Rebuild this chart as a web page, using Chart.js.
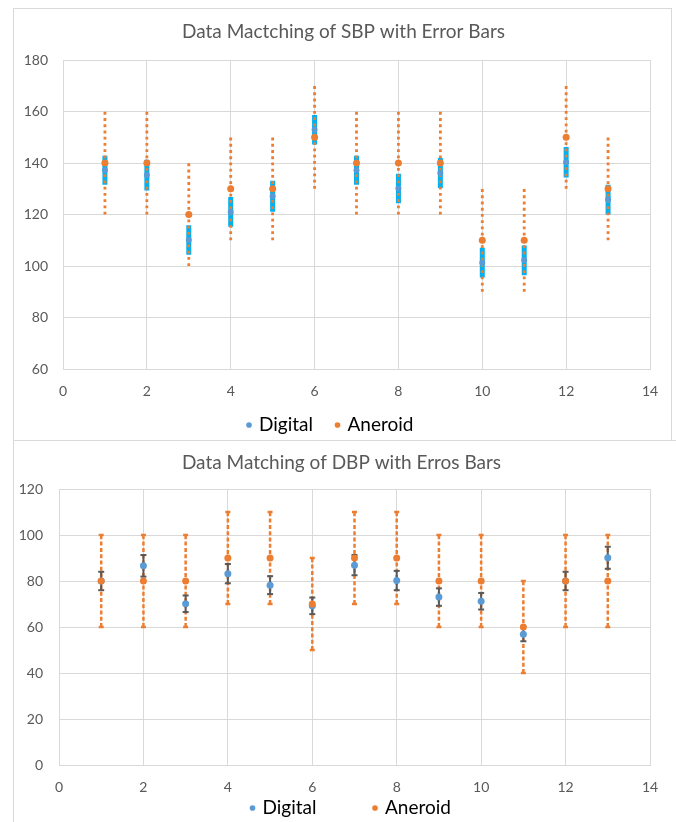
<!DOCTYPE html>
<html><head><meta charset="utf-8">
<script src="https://cdn.jsdelivr.net/npm/chart.js@4.4.1/dist/chart.umd.min.js"></script>
<style>
html,body{margin:0;padding:0;background:#fff;width:676px;height:822px;overflow:hidden;position:relative;}
.frame{position:absolute;border:1px solid #D9D9D9;box-sizing:border-box;}
canvas{position:absolute;left:0;}
</style></head><body>
<div class="frame" style="left:13px;top:8px;width:659px;height:433px;"></div>
<div class="frame" style="left:13px;top:440px;width:700px;height:420px;"></div>
<canvas id="c1" width="676" height="454" style="top:0px"></canvas>
<canvas id="c2" width="676" height="444" style="top:440px"></canvas>
<script>
// ---- data ----
const xValues = [1, 2, 3, 4, 5, 6, 7, 8, 9, 10, 11, 12, 13];
const xTicks = [0, 2, 4, 6, 8, 10, 12, 14];

const sbpTitle = 'Data Mactching of SBP with Error Bars';
const sbpYTicks = [60, 80, 100, 120, 140, 160, 180];
const sbpDigital = [137.2, 135.3, 110.1, 121.0, 127.1, 152.9, 137.2, 130.1, 136.1, 101.3, 102.2, 140.3, 125.8];
const sbpDigitalErr = [5.6, 6.0, 5.7, 5.8, 6.0, 5.7, 5.6, 5.7, 5.8, 5.8, 5.8, 5.9, 5.8];
const sbpAneroid = [140, 140, 120, 130, 130, 150, 140, 140, 140, 110, 110, 150, 130];
const sbpAneroidErr = [20, 20, 20, 20, 20, 20, 20, 20, 20, 20, 20, 20, 20];

const dbpTitle = 'Data Matching of DBP with Erros Bars';
const dbpYTicks = [0, 20, 40, 60, 80, 100, 120];
const dbpDigital = [80, 86.6, 70.1, 83.2, 78.2, 69.2, 86.9, 80.2, 73.0, 71.2, 56.9, 80, 90.1];
const dbpDigitalErr = [4.0, 4.7, 3.6, 4.2, 3.9, 3.6, 4.4, 4.2, 3.8, 3.6, 3.1, 4.0, 4.8];
const dbpAneroid = [80, 80, 80, 90, 90, 70, 90, 90, 80, 80, 60, 80, 80];
const dbpAneroidErr = [20, 20, 20, 20, 20, 20, 20, 20, 20, 20, 20, 20, 20];

const seriesNames = ['Digital', 'Aneroid'];

// ---- helpers ----
const FONT = 'Lato';
function pts(xs, ys) { return xs.map((x, i) => ({x: x, y: ys[i]})); }
function errSegs(xs, ys, es) {
  const out = [];
  xs.forEach((x, i) => {
    out.push({x: x, y: ys[i] - es[i]}, {x: x, y: ys[i] + es[i]}, {x: x, y: null});
  });
  return out;
}

// shifts the title / legend boxes after Chart.js has laid them out
const boxNudge = {
  id: 'boxNudge',
  afterLayout(chart, args, opts) {
    const move = (b, dx, dy) => {
      if (!b) return;
      b.left += dx || 0; b.right += dx || 0; b.top += dy || 0; b.bottom += dy || 0;
    };
    move(chart.legend, opts.legendDx, opts.legendDy);
    move(chart.titleBlock, opts.titleDx, 0);
  }
};

function makeOptions(c) {
  return {
    responsive: false,
    animation: false,
    events: [],
    layout: {padding: {left: 14, right: 26, top: 0, bottom: 0}},
    plugins: {
      title: {
        display: true, text: c.title, color: '#595959',
        font: {family: FONT, size: 19, weight: 'normal'},
        padding: {top: c.titleTop, bottom: c.titleBottom}
      },
      legend: {
        position: 'bottom',
        labels: {
          usePointStyle: true, pointStyle: 'circle', boxWidth: 1, boxHeight: 4,
          padding: c.legendPad, color: '#000',
          font: {family: FONT, size: 19},
          filter: (item) => seriesNames.includes(item.text),
          sort: (a, b) => a.datasetIndex - b.datasetIndex
        }
      },
      boxNudge: {legendDx: c.legendDx, legendDy: c.legendDy, titleDx: c.titleDx},
      tooltip: {enabled: false}
    },
    scales: {
      x: {
        type: 'linear', position: 'bottom', min: xTicks[0], max: xTicks[xTicks.length - 1],
        afterBuildTicks: (s) => { s.ticks = xTicks.map(v => ({value: v})); },
        afterFit: (s) => { s.height = 32; },
        grid: {color: '#D9D9D9', drawTicks: false},
        border: {color: '#D9D9D9'},
        ticks: {color: '#595959', font: {family: FONT, size: 14}, padding: c.xTickPad}
      },
      y: {
        type: 'linear', min: c.yTicks[0], max: c.yTicks[c.yTicks.length - 1],
        afterBuildTicks: (s) => { s.ticks = c.yTicks.map(v => ({value: v})); },
        afterFit: (s) => { s.width = c.yAxisWidth; },
        grid: {color: '#D9D9D9', drawTicks: false},
        border: {color: '#D9D9D9'},
        ticks: {color: '#595959', font: {family: FONT, size: 14}, padding: c.yTickPad}
      }
    }
  };
}

// ---- SBP chart ----
new Chart(document.getElementById('c1'), {
  type: 'scatter',
  data: {
    datasets: [
      {label: 'Digital', data: pts(xValues, sbpDigital), backgroundColor: '#5B9BD5', borderColor: '#5B9BD5',
       pointRadius: 3, pointBorderWidth: 0, order: 0},
      {label: 'Aneroid', data: pts(xValues, sbpAneroid), backgroundColor: '#ED7D31', borderColor: '#ED7D31',
       pointRadius: 3.5, pointBorderWidth: 0, order: 1},
      {label: 'Digital error', data: errSegs(xValues, sbpDigital, sbpDigitalErr), showLine: true, spanGaps: false,
       borderColor: '#00B0F0', borderWidth: 5, borderCapStyle: 'butt', pointRadius: 0, order: 4},
      {label: 'Aneroid error', data: errSegs(xValues, sbpAneroid, sbpAneroidErr), showLine: true, spanGaps: false,
       borderColor: '#ED7D31', borderWidth: 2.8, borderDash: [2.8, 3.44], borderCapStyle: 'butt', pointRadius: 0, order: 3}
    ]
  },
  options: makeOptions({title: sbpTitle, yTicks: sbpYTicks, yAxisWidth: 49, titleTop: 20.6, titleBottom: 16.6,
    legendPad: 24, legendDx: -1, legendDy: -9.5, titleDx: 11.5, xTickPad: 14, yTickPad: 15}),
  plugins: [boxNudge]
});

// ---- DBP chart ----
new Chart(document.getElementById('c2'), {
  type: 'scatter',
  data: {
    datasets: [
      {label: 'Digital', data: pts(xValues, dbpDigital), backgroundColor: '#5B9BD5', borderColor: '#5B9BD5',
       pointRadius: 3.5, pointBorderWidth: 0, order: 1},
      {label: 'Aneroid', data: pts(xValues, dbpAneroid), backgroundColor: '#ED7D31', borderColor: '#ED7D31',
       pointRadius: 3.5, pointBorderWidth: 0, order: 0},
      {label: 'Digital error', data: errSegs(xValues, dbpDigital, dbpDigitalErr), showLine: true, spanGaps: false,
       borderColor: '#595959', borderWidth: 2, pointStyle: 'line', pointRadius: 3, pointBorderWidth: 2,
       pointBorderColor: '#595959', pointBackgroundColor: '#595959', order: 2},
      {label: 'Aneroid error', data: errSegs(xValues, dbpAneroid, dbpAneroidErr), showLine: true, spanGaps: false,
       borderColor: '#ED7D31', borderWidth: 2.5, borderDash: [4, 2.26], pointStyle: 'line', pointRadius: 2.5,
       pointBorderWidth: 2.5, pointBorderColor: '#ED7D31', pointBackgroundColor: '#ED7D31', order: 3}
    ]
  },
  options: makeOptions({title: dbpTitle, yTicks: dbpYTicks, yAxisWidth: 45, titleTop: 11.6, titleBottom: 14.6,
    legendPad: 58, legendDx: 19.5, legendDy: -56.5, titleDx: 9.5, xTickPad: 14, yTickPad: 16}),
  plugins: [boxNudge]
});
</script>
</body></html>
